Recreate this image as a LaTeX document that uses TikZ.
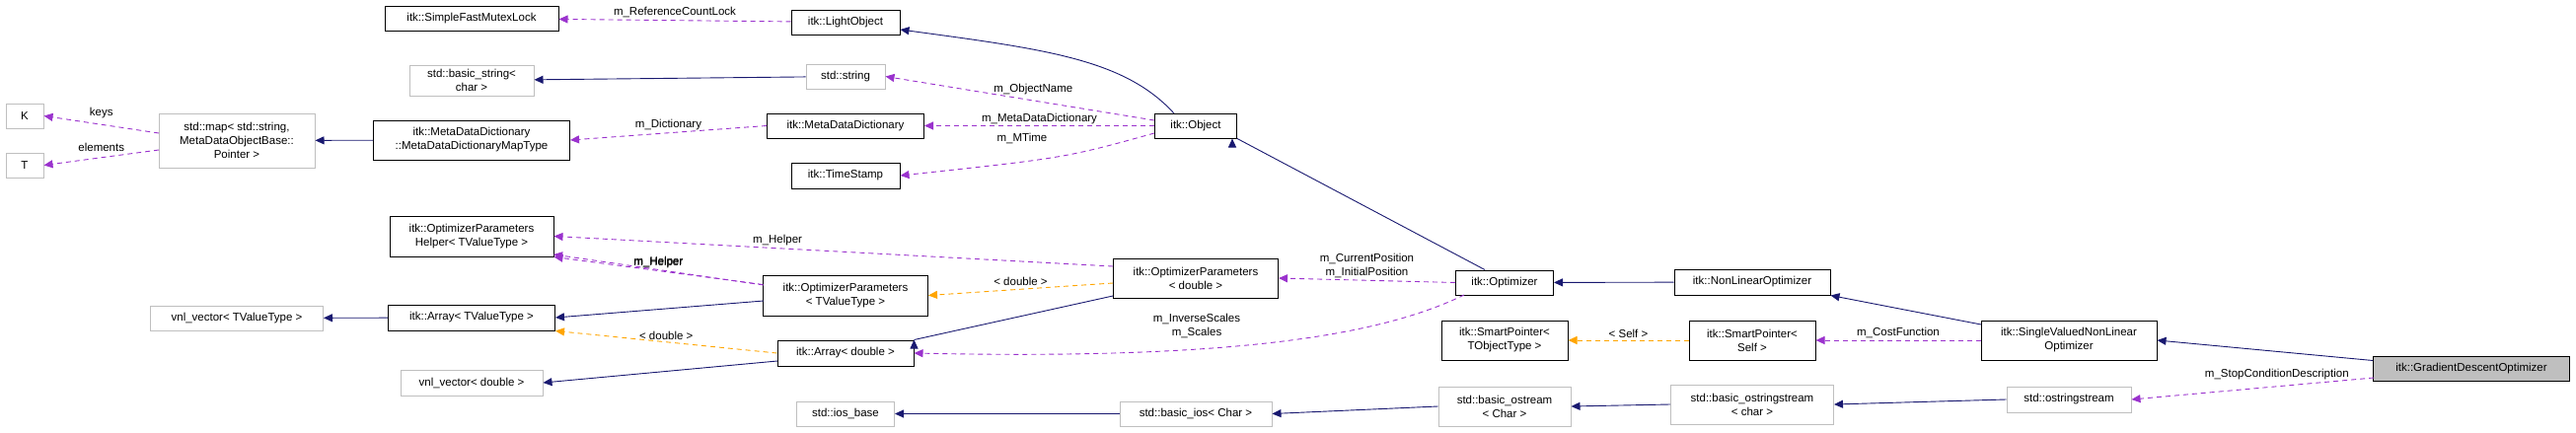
\documentclass[tikz,border=0pt]{standalone}
\usepackage{fontspec}
\setmainfont{Liberation Sans}
\usetikzlibrary{arrows.meta}
\definecolor{navy}{HTML}{191970}
\definecolor{purp}{HTML}{9A32CD}
\definecolor{orng}{HTML}{FFA500}
\definecolor{lgray}{HTML}{BFBFBF}
\begin{document}
\begin{tikzpicture}[x=1pt,y=-1pt,
  every node/.style={font=\fontsize{11.5}{14}\selectfont, inner sep=0pt, align=center},
  box/.style={draw=black, line width=1pt, fill=white},
  ext/.style={draw=lgray, line width=1pt, fill=white},
  inh/.style={draw=navy, line width=0.9pt, -{Triangle[length=9pt,width=8pt]}},
  use/.style={draw=purp, line width=0.9pt, dash pattern=on 5pt off 4pt, -{Triangle[length=9pt,width=8pt]}},
  tpl/.style={draw=orng, line width=0.9pt, dash pattern=on 5pt off 4pt, -{Triangle[length=9pt,width=8pt]}},
  lbl/.style={fill=none}]
\useasboundingbox (0,0) rectangle (2611,439);
\newcommand{\bx}[6]{\node[#1, minimum width=#4, minimum height=#5] (#2) at (#3) {#6};}
\bx{box}{sfml}{478,18.5}{176}{25}{itk::SimpleFastMutexLock}
\bx{box}{lo}{857,22.5}{110}{25}{itk::LightObject}
\bx{ext}{bs}{478,81.5}{126}{31}{std::basic\_string\textless\\char \textgreater}
\bx{ext}{ss}{857,77.5}{80}{25}{std::string}
\bx{ext}{K}{25,117.5}{38}{25}{K}
\bx{ext}{T}{25,167.5}{38}{25}{T}
\bx{ext}{map}{240,142.5}{158}{55}{std::map\textless{} std::string,\\MetaDataObjectBase::\\Pointer \textgreater}
\bx{box}{mt}{478,142}{199}{40}{itk::MetaDataDictionary\\::MetaDataDictionaryMapType}
\bx{box}{mdd}{857,127.5}{159}{25}{itk::MetaDataDictionary}
\bx{box}{ts}{857,178}{110}{26}{itk::TimeStamp}
\bx{box}{obj}{1212,127.5}{83}{25}{itk::Object}
\bx{box}{help}{478,239.5}{166}{41}{itk::OptimizerParameters\\Helper\textless{} TValueType \textgreater}
\bx{box}{opt}{857,299.5}{167}{41}{itk::OptimizerParameters\\\textless{} TValueType \textgreater}
\bx{box}{opd}{1212,282}{167}{40}{itk::OptimizerParameters\\\textless{} double \textgreater}
\bx{box}{at}{478,322}{169}{26}{itk::Array\textless{} TValueType \textgreater}
\bx{ext}{vt}{240,322.5}{175}{25}{vnl\_vector\textless{} TValueType \textgreater}
\bx{box}{ad}{857,358}{138}{26}{itk::Array\textless{} double \textgreater}
\bx{ext}{vd}{478,388}{144}{26}{vnl\_vector\textless{} double \textgreater}
\bx{ext}{iob}{857,419.5}{99}{25}{std::ios\_base}
\bx{ext}{bios}{1212,419.5}{154}{25}{std::basic\_ios\textless{} Char \textgreater}
\bx{ext}{bos}{1525,412}{134}{40}{std::basic\_ostream\\\textless{} Char \textgreater}
\bx{box}{optim}{1525,286.5}{99}{25}{itk::Optimizer}
\bx{box}{spt}{1525,345}{128}{40}{itk::SmartPointer\textless\\TObjectType \textgreater}
\bx{box}{nlo}{1776,286}{158}{26}{itk::NonLinearOptimizer}
\bx{box}{sps}{1776,345}{128}{40}{itk::SmartPointer\textless\\Self \textgreater}
\bx{ext}{boss}{1776,410}{165}{40}{std::basic\_ostringstream\\\textless{} char \textgreater}
\bx{box}{svn}{2097,345}{178}{40}{itk::SingleValuedNonLinear\\Optimizer}
\bx{ext}{oss}{2097,405}{126}{26}{std::ostringstream}
\node[box, fill=lgray, minimum width=199, minimum height=25] (gdo) at (2505,373.5) {itk::GradientDescentOptimizer};

% edges
\draw[use] (lo) -- node[lbl, above=2pt]{m\_ReferenceCountLock} (sfml);
\draw[inh] (ss) -- (bs);
\draw[inh] (1190,115) .. controls (1140,60) and (1060,50) .. (lo.east |- 0,30);
\draw[use] (1170,122) -- node[lbl, above=6pt, pos=0.45]{m\_ObjectName} (ss.east);
\draw[use] (obj.west) -- node[lbl, above=1pt, pos=0.5]{m\_MetaDataDictionary} (mdd.east);
\draw[use] (1170,135) .. controls (1080,160) .. (ts.east);
\node[lbl] at (1036,140) {m\_MTime};
\draw[use] (mdd.west) -- node[lbl, above=2pt]{m\_Dictionary} (mt.east);
\draw[inh] (mt) -- (map);
\draw[use] (161,135) -- node[lbl, above=6pt]{keys} (K.east);
\draw[use] (161,152) -- node[lbl, above=6pt]{elements} (T.east);
\draw[inh] (optim.north) ++(-20,0) -- (obj.south east) ++(-5,0);
\draw[use] (optim.west) -- node[lbl, above=2pt]{m\_CurrentPosition\\m\_InitialPosition} (opd.east);
\draw[use] (1484,299) .. controls (1400,340) and (1250,365) .. (ad.east);
\node[lbl] at (1213,330) {m\_InverseScales\\m\_Scales};
\draw[use] (1128,270) -- node[lbl, above=2pt, pos=0.6]{m\_Helper} (help.east);
\draw[tpl] (1128,287) -- node[lbl, above=3pt]{\textless{} double \textgreater} (opt.east);
\draw[inh] (1128,300) -- (ad.north east) ++(0,0);
\draw[use] (opt.north west) ++(0,10) -- node[lbl, above=2pt]{m\_Helper} (help.south east);
\draw[use] (774,289) -- node[lbl, above=2pt]{m\_Helper} (561,258);
\draw[inh] (774,305) -- (at.east);
\draw[inh] (at) -- (vt);
\draw[tpl] (ad.west) -- node[lbl, above=2pt]{\textless{} double \textgreater} (at.south east);
\draw[inh] (788,366) -- (vd.east);
\draw[inh] (bios) -- (iob);
\draw[inh] (bos.west) -- (bios.east);
\draw[inh] (nlo) -- (optim);
\draw[inh] (2008,329) -- (nlo.south east);
\draw[use] (svn.west) -- node[lbl, above=2pt]{m\_CostFunction} (sps.east);
\draw[tpl] (sps.west) -- node[lbl, above=2pt]{\textless{} Self \textgreater} (spt.east);
\draw[inh] (boss.west) -- (bos.east);
\draw[inh] (oss.west) -- (boss.east);
\draw[inh] (gdo.north west) ++(0,5) -- (svn.east);
\draw[use] (2406,383) -- node[lbl, above=6pt, pos=0.4]{m\_StopConditionDescription} (oss.east);
\end{tikzpicture}
\end{document}
